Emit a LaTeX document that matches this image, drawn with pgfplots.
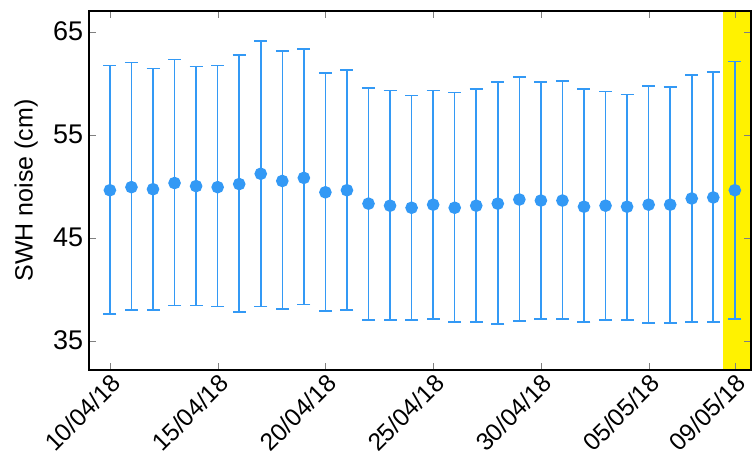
\documentclass[border=0pt]{standalone}
\usepackage{pgfplots}
\pgfplotsset{compat=1.18}
\usepackage{pgfplotstable}
\usepackage{fontspec}
\setmainfont{Liberation Sans}
\definecolor{eb}{RGB}{51,153,245}
\pgfplotstableread{
x y lo hi
0 49.6 37.6 61.7
1 49.9 38.0 62.0
2 49.7 38.0 61.4
3 50.3 38.4 62.3
4 50.0 38.4 61.6
5 49.9 38.3 61.7
6 50.2 37.8 62.7
7 51.2 38.3 64.1
8 50.5 38.1 63.1
9 50.8 38.5 63.3
10 49.4 37.9 61.0
11 49.6 38.0 61.3
12 48.3 37.0 59.5
13 48.1 37.0 59.3
14 47.9 37.0 58.8
15 48.2 37.1 59.3
16 47.9 36.8 59.1
17 48.1 36.8 59.4
18 48.3 36.6 60.1
19 48.7 36.9 60.6
20 48.6 37.1 60.1
21 48.6 37.1 60.2
22 48.0 36.8 59.4
23 48.1 37.0 59.2
24 48.0 37.0 58.9
25 48.2 36.7 59.7
26 48.2 36.7 59.6
27 48.8 36.8 60.8
28 48.9 36.8 61.1
29 49.6 37.1 62.1
}\data
\pgfplotstablecreatecol[expr={\thisrow{hi}-\thisrow{y}}]{ep}{\data}
\pgfplotstablecreatecol[expr={\thisrow{y}-\thisrow{lo}}]{em}{\data}
\begin{document}
\begin{tikzpicture}
\begin{axis}[
  scale only axis, width=662pt, height=359pt,
  xmin=-0.97, xmax=29.75, ymin=32.15, ymax=67,
  axis on top, line width=1.8pt,
  tick align=inside, major tick length=7pt,
  xtick={0,5,10,15,20,25,29},
  xticklabels={10/04/18,15/04/18,20/04/18,25/04/18,30/04/18,05/05/18,09/05/18},
  x tick label style={rotate=45, anchor=north east, font=\fontsize{24.5}{26}\selectfont, inner sep=1pt},
  ytick={35,45,55,65},
  y tick label style={font=\fontsize{27}{29}\selectfont, inner sep=5pt},
  /pgf/number format/assume math mode=true,
  ylabel={SWH noise (cm)},
  ylabel style={font=\fontsize{25}{27}\selectfont, yshift=6pt},
]
\addplot[fill=yellow, draw=none, line width=0pt] coordinates {(28.47,32.15) (28.47,67) (29.75,67) (29.75,32.15)} -- cycle;
\addplot[eb, only marks, mark=*, mark size=5.5pt, line width=1.6pt,
  error bars/.cd, y dir=both, y explicit,
  error bar style={eb, line width=1.6pt},
  error mark options={rotate=90, mark size=6.5pt, eb, line width=1.6pt}]
  table[x=x, y=y, y error plus=ep, y error minus=em] {\data};
\end{axis}
\pgfresetboundingbox
\path[use as bounding box] ([shift={(-89pt,-89pt)}]current axis.south west) rectangle ([shift={(1pt,11pt)}]current axis.north east);
\end{tikzpicture}
\end{document}
